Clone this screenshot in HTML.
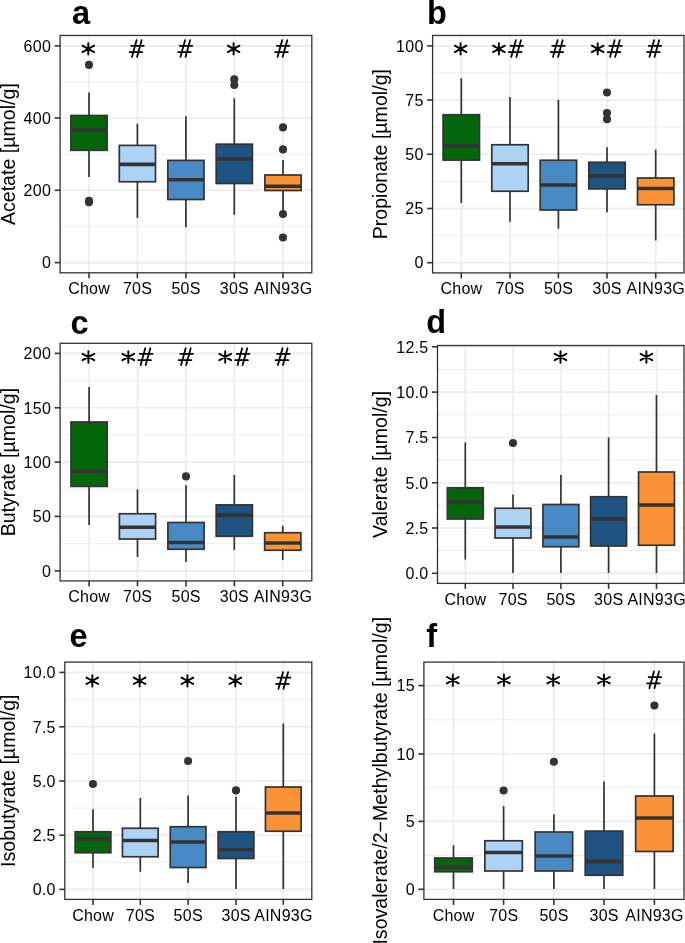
<!DOCTYPE html>
<html><head><meta charset="utf-8"><title>SCFA boxplots</title>
<style>
html,body{margin:0;padding:0;background:#fff;}
body{width:685px;height:943px;overflow:hidden;}
svg{display:block;will-change:transform;}
text{font-family:"Liberation Sans",sans-serif;fill:#000;}
.yl{font-size:16.0px;text-anchor:end;letter-spacing:0.25px;}
.xl{font-size:16.0px;text-anchor:middle;letter-spacing:0.25px;}
.yt{font-size:19.6px;text-anchor:middle;}
.tg{font-size:32.5px;font-weight:bold;}
.wh{stroke:#333333;stroke-width:1.7;}
.bx{stroke:#333333;stroke-width:1.7;}
.md{stroke:#333333;stroke-width:3.6;}
.dot{fill:#333333;}
.bd{fill:none;stroke:#333333;stroke-width:1.3;}
.tk{stroke:#333333;stroke-width:1.6;}
.ast{fill:none;stroke:#000;stroke-width:1.9;stroke-linecap:round;}
.hsh{fill:none;stroke:#000;stroke-width:1.75;stroke-linecap:round;}
</style></head>
<body>
<svg width="685" height="943" viewBox="0 0 685 943">
<rect width="685" height="943" fill="#fff"/>
<line x1="60.1" y1="226.4" x2="311.8" y2="226.4" stroke="#ebebeb" stroke-width="0.9"/>
<line x1="60.1" y1="154.2" x2="311.8" y2="154.2" stroke="#ebebeb" stroke-width="0.9"/>
<line x1="60.1" y1="81.8" x2="311.8" y2="81.8" stroke="#ebebeb" stroke-width="0.9"/>
<line x1="60.1" y1="262.6" x2="311.8" y2="262.6" stroke="#ebebeb" stroke-width="1.6"/>
<line x1="60.1" y1="190.3" x2="311.8" y2="190.3" stroke="#ebebeb" stroke-width="1.6"/>
<line x1="60.1" y1="118" x2="311.8" y2="118" stroke="#ebebeb" stroke-width="1.6"/>
<line x1="60.1" y1="45.9" x2="311.8" y2="45.9" stroke="#ebebeb" stroke-width="1.6"/>
<line x1="89" y1="35.45" x2="89" y2="272.8" stroke="#ebebeb" stroke-width="1.6"/>
<line x1="137.4" y1="35.45" x2="137.4" y2="272.8" stroke="#ebebeb" stroke-width="1.6"/>
<line x1="185.9" y1="35.45" x2="185.9" y2="272.8" stroke="#ebebeb" stroke-width="1.6"/>
<line x1="234.3" y1="35.45" x2="234.3" y2="272.8" stroke="#ebebeb" stroke-width="1.6"/>
<line x1="283" y1="35.45" x2="283" y2="272.8" stroke="#ebebeb" stroke-width="1.6"/>
<line x1="89" y1="92.5" x2="89" y2="115.5" class="wh"/>
<line x1="89" y1="150.3" x2="89" y2="177" class="wh"/>
<rect x="70.9" y="115.5" width="36.2" height="34.8" fill="#03660a" class="bx"/>
<line x1="70.9" y1="130" x2="107.1" y2="130" class="md"/>
<circle cx="89" cy="64.9" r="4.05" class="dot"/>
<circle cx="89" cy="200.8" r="4.05" class="dot"/>
<circle cx="89" cy="202.2" r="4.05" class="dot"/>
<line x1="137.4" y1="123.75" x2="137.4" y2="145.4" class="wh"/>
<line x1="137.4" y1="181.75" x2="137.4" y2="218" class="wh"/>
<rect x="119.3" y="145.4" width="36.2" height="36.35" fill="#acd3f5" class="bx"/>
<line x1="119.3" y1="164.4" x2="155.5" y2="164.4" class="md"/>
<line x1="185.9" y1="116.25" x2="185.9" y2="160.4" class="wh"/>
<line x1="185.9" y1="199.5" x2="185.9" y2="227.25" class="wh"/>
<rect x="167.8" y="160.4" width="36.2" height="39.1" fill="#4a8ac4" class="bx"/>
<line x1="167.8" y1="179.75" x2="204" y2="179.75" class="md"/>
<line x1="234.3" y1="98.25" x2="234.3" y2="144.2" class="wh"/>
<line x1="234.3" y1="183.5" x2="234.3" y2="214.75" class="wh"/>
<rect x="216.2" y="144.2" width="36.2" height="39.3" fill="#1f5384" class="bx"/>
<line x1="216.2" y1="159" x2="252.4" y2="159" class="md"/>
<circle cx="234.3" cy="79.25" r="4.05" class="dot"/>
<circle cx="234.3" cy="85" r="4.05" class="dot"/>
<line x1="283" y1="160" x2="283" y2="175" class="wh"/>
<line x1="283" y1="190.5" x2="283" y2="210.5" class="wh"/>
<rect x="264.9" y="175" width="36.2" height="15.5" fill="#fb9236" class="bx"/>
<line x1="264.9" y1="186.2" x2="301.1" y2="186.2" class="md"/>
<circle cx="283" cy="127.4" r="4.05" class="dot"/>
<circle cx="283" cy="149.4" r="4.05" class="dot"/>
<circle cx="283" cy="214" r="4.05" class="dot"/>
<circle cx="283" cy="237.5" r="4.05" class="dot"/>
<path d="M88.3 43.2V54.6 M82.45 45.7L94.15 52.1 M82.45 52.1L94.15 45.7" class="ast"/>
<path d="M136.55 40.15L131.95 56.95 M141.65 40.15L137.05 56.95 M131.2 45.8H143.8 M129.6 52.05H142.3" class="hsh"/>
<path d="M185.05 40.15L180.45 56.95 M190.15 40.15L185.55 56.95 M179.7 45.8H192.3 M178.1 52.05H190.8" class="hsh"/>
<path d="M233.6 43.2V54.6 M227.75 45.7L239.45 52.1 M227.75 52.1L239.45 45.7" class="ast"/>
<path d="M282.15 40.15L277.55 56.95 M287.25 40.15L282.65 56.95 M276.8 45.8H289.4 M275.2 52.05H287.9" class="hsh"/>
<rect x="60.1" y="35.45" width="251.7" height="237.35" class="bd"/>
<line x1="54.6" y1="262.6" x2="60.1" y2="262.6" class="tk"/>
<text x="51.05" y="268.35" class="yl">0</text>
<line x1="54.6" y1="190.3" x2="60.1" y2="190.3" class="tk"/>
<text x="51.05" y="196.05" class="yl">200</text>
<line x1="54.6" y1="118" x2="60.1" y2="118" class="tk"/>
<text x="51.05" y="123.75" class="yl">400</text>
<line x1="54.6" y1="45.9" x2="60.1" y2="45.9" class="tk"/>
<text x="51.05" y="51.65" class="yl">600</text>
<line x1="89" y1="272.8" x2="89" y2="278.3" class="tk"/>
<text x="89.12" y="293.9" class="xl">Chow</text>
<line x1="137.4" y1="272.8" x2="137.4" y2="278.3" class="tk"/>
<text x="137.52" y="293.9" class="xl">70S</text>
<line x1="185.9" y1="272.8" x2="185.9" y2="278.3" class="tk"/>
<text x="186.02" y="293.9" class="xl">50S</text>
<line x1="234.3" y1="272.8" x2="234.3" y2="278.3" class="tk"/>
<text x="234.42" y="293.9" class="xl">30S</text>
<line x1="283" y1="272.8" x2="283" y2="278.3" class="tk"/>
<text x="283.12" y="293.9" class="xl">AIN93G</text>
<text transform="translate(14.5 154.12) rotate(-90)" class="yt">Acetate [µmol/g]</text>
<text x="72" y="23.9" class="tg">a</text>
<line x1="432.6" y1="235.6" x2="684" y2="235.6" stroke="#ebebeb" stroke-width="0.9"/>
<line x1="432.6" y1="181.4" x2="684" y2="181.4" stroke="#ebebeb" stroke-width="0.9"/>
<line x1="432.6" y1="127.1" x2="684" y2="127.1" stroke="#ebebeb" stroke-width="0.9"/>
<line x1="432.6" y1="72.8" x2="684" y2="72.8" stroke="#ebebeb" stroke-width="0.9"/>
<line x1="432.6" y1="262.7" x2="684" y2="262.7" stroke="#ebebeb" stroke-width="1.6"/>
<line x1="432.6" y1="208.5" x2="684" y2="208.5" stroke="#ebebeb" stroke-width="1.6"/>
<line x1="432.6" y1="154.25" x2="684" y2="154.25" stroke="#ebebeb" stroke-width="1.6"/>
<line x1="432.6" y1="100" x2="684" y2="100" stroke="#ebebeb" stroke-width="1.6"/>
<line x1="432.6" y1="45.9" x2="684" y2="45.9" stroke="#ebebeb" stroke-width="1.6"/>
<line x1="461.3" y1="35.45" x2="461.3" y2="272.9" stroke="#ebebeb" stroke-width="1.6"/>
<line x1="510" y1="35.45" x2="510" y2="272.9" stroke="#ebebeb" stroke-width="1.6"/>
<line x1="558.4" y1="35.45" x2="558.4" y2="272.9" stroke="#ebebeb" stroke-width="1.6"/>
<line x1="607" y1="35.45" x2="607" y2="272.9" stroke="#ebebeb" stroke-width="1.6"/>
<line x1="655.7" y1="35.45" x2="655.7" y2="272.9" stroke="#ebebeb" stroke-width="1.6"/>
<line x1="461.3" y1="78.25" x2="461.3" y2="114.75" class="wh"/>
<line x1="461.3" y1="160.1" x2="461.3" y2="203" class="wh"/>
<rect x="443.1" y="114.75" width="36.4" height="45.35" fill="#03660a" class="bx"/>
<line x1="443.1" y1="145.9" x2="479.5" y2="145.9" class="md"/>
<line x1="510" y1="97" x2="510" y2="144.75" class="wh"/>
<line x1="510" y1="191.25" x2="510" y2="221.75" class="wh"/>
<rect x="491.8" y="144.75" width="36.4" height="46.5" fill="#acd3f5" class="bx"/>
<line x1="491.8" y1="163.75" x2="528.2" y2="163.75" class="md"/>
<line x1="558.4" y1="100" x2="558.4" y2="160.25" class="wh"/>
<line x1="558.4" y1="210" x2="558.4" y2="228.75" class="wh"/>
<rect x="540.2" y="160.25" width="36.4" height="49.75" fill="#4a8ac4" class="bx"/>
<line x1="540.2" y1="185" x2="576.6" y2="185" class="md"/>
<line x1="607" y1="147.25" x2="607" y2="162.25" class="wh"/>
<line x1="607" y1="188.9" x2="607" y2="212.25" class="wh"/>
<rect x="588.8" y="162.25" width="36.4" height="26.65" fill="#1f5384" class="bx"/>
<line x1="588.8" y1="175.9" x2="625.2" y2="175.9" class="md"/>
<circle cx="607" cy="92.5" r="4.05" class="dot"/>
<circle cx="607" cy="113" r="4.05" class="dot"/>
<circle cx="607" cy="119.25" r="4.05" class="dot"/>
<line x1="655.7" y1="149.6" x2="655.7" y2="178" class="wh"/>
<line x1="655.7" y1="204.75" x2="655.7" y2="240.5" class="wh"/>
<rect x="637.5" y="178" width="36.4" height="26.75" fill="#fb9236" class="bx"/>
<line x1="637.5" y1="188.5" x2="673.9" y2="188.5" class="md"/>
<path d="M460.6 43.2V54.6 M454.75 45.7L466.45 52.1 M454.75 52.1L466.45 45.7" class="ast"/>
<path d="M498.9 43.2V54.6 M493.05 45.7L504.75 52.1 M493.05 52.1L504.75 45.7" class="ast"/><path d="M515.85 40.15L511.25 56.95 M520.95 40.15L516.35 56.95 M510.5 45.8H523.1 M508.9 52.05H521.6" class="hsh"/>
<path d="M557.55 40.15L552.95 56.95 M562.65 40.15L558.05 56.95 M552.2 45.8H564.8 M550.6 52.05H563.3" class="hsh"/>
<path d="M597.7 43.2V54.6 M591.85 45.7L603.55 52.1 M591.85 52.1L603.55 45.7" class="ast"/><path d="M614.65 40.15L610.05 56.95 M619.75 40.15L615.15 56.95 M609.3 45.8H621.9 M607.7 52.05H620.4" class="hsh"/>
<path d="M654.05 40.15L649.45 56.95 M659.15 40.15L654.55 56.95 M648.7 45.8H661.3 M647.1 52.05H659.8" class="hsh"/>
<rect x="432.6" y="35.45" width="251.4" height="237.45" class="bd"/>
<line x1="427.1" y1="262.7" x2="432.6" y2="262.7" class="tk"/>
<text x="423.55" y="268.45" class="yl">0</text>
<line x1="427.1" y1="208.5" x2="432.6" y2="208.5" class="tk"/>
<text x="423.55" y="214.25" class="yl">25</text>
<line x1="427.1" y1="154.25" x2="432.6" y2="154.25" class="tk"/>
<text x="423.55" y="160" class="yl">50</text>
<line x1="427.1" y1="100" x2="432.6" y2="100" class="tk"/>
<text x="423.55" y="105.75" class="yl">75</text>
<line x1="427.1" y1="45.9" x2="432.6" y2="45.9" class="tk"/>
<text x="423.55" y="51.65" class="yl">100</text>
<line x1="461.3" y1="272.9" x2="461.3" y2="278.4" class="tk"/>
<text x="461.42" y="294" class="xl">Chow</text>
<line x1="510" y1="272.9" x2="510" y2="278.4" class="tk"/>
<text x="510.12" y="294" class="xl">70S</text>
<line x1="558.4" y1="272.9" x2="558.4" y2="278.4" class="tk"/>
<text x="558.52" y="294" class="xl">50S</text>
<line x1="607" y1="272.9" x2="607" y2="278.4" class="tk"/>
<text x="607.12" y="294" class="xl">30S</text>
<line x1="655.7" y1="272.9" x2="655.7" y2="278.4" class="tk"/>
<text x="655.82" y="294" class="xl">AIN93G</text>
<text transform="translate(387 154.17) rotate(-90)" class="yt">Propionate [µmol/g]</text>
<text x="426.9" y="23.9" class="tg">b</text>
<line x1="60.1" y1="543.7" x2="311.8" y2="543.7" stroke="#ebebeb" stroke-width="0.9"/>
<line x1="60.1" y1="489.3" x2="311.8" y2="489.3" stroke="#ebebeb" stroke-width="0.9"/>
<line x1="60.1" y1="435" x2="311.8" y2="435" stroke="#ebebeb" stroke-width="0.9"/>
<line x1="60.1" y1="380.6" x2="311.8" y2="380.6" stroke="#ebebeb" stroke-width="0.9"/>
<line x1="60.1" y1="570.9" x2="311.8" y2="570.9" stroke="#ebebeb" stroke-width="1.6"/>
<line x1="60.1" y1="516.4" x2="311.8" y2="516.4" stroke="#ebebeb" stroke-width="1.6"/>
<line x1="60.1" y1="462.1" x2="311.8" y2="462.1" stroke="#ebebeb" stroke-width="1.6"/>
<line x1="60.1" y1="407.8" x2="311.8" y2="407.8" stroke="#ebebeb" stroke-width="1.6"/>
<line x1="60.1" y1="353.4" x2="311.8" y2="353.4" stroke="#ebebeb" stroke-width="1.6"/>
<line x1="89.1" y1="343.3" x2="89.1" y2="580.9" stroke="#ebebeb" stroke-width="1.6"/>
<line x1="137.5" y1="343.3" x2="137.5" y2="580.9" stroke="#ebebeb" stroke-width="1.6"/>
<line x1="186" y1="343.3" x2="186" y2="580.9" stroke="#ebebeb" stroke-width="1.6"/>
<line x1="234.3" y1="343.3" x2="234.3" y2="580.9" stroke="#ebebeb" stroke-width="1.6"/>
<line x1="282.75" y1="343.3" x2="282.75" y2="580.9" stroke="#ebebeb" stroke-width="1.6"/>
<line x1="89.1" y1="387" x2="89.1" y2="422" class="wh"/>
<line x1="89.1" y1="486.4" x2="89.1" y2="525" class="wh"/>
<rect x="71" y="422" width="36.2" height="64.4" fill="#03660a" class="bx"/>
<line x1="71" y1="471.5" x2="107.2" y2="471.5" class="md"/>
<line x1="137.5" y1="489.5" x2="137.5" y2="513.75" class="wh"/>
<line x1="137.5" y1="539" x2="137.5" y2="557" class="wh"/>
<rect x="119.4" y="513.75" width="36.2" height="25.25" fill="#acd3f5" class="bx"/>
<line x1="119.4" y1="527.25" x2="155.6" y2="527.25" class="md"/>
<line x1="186" y1="485.25" x2="186" y2="522.5" class="wh"/>
<line x1="186" y1="549.25" x2="186" y2="562" class="wh"/>
<rect x="167.9" y="522.5" width="36.2" height="26.75" fill="#4a8ac4" class="bx"/>
<line x1="167.9" y1="542.5" x2="204.1" y2="542.5" class="md"/>
<circle cx="186" cy="476.4" r="4.05" class="dot"/>
<line x1="234.3" y1="475" x2="234.3" y2="504.9" class="wh"/>
<line x1="234.3" y1="536.25" x2="234.3" y2="550" class="wh"/>
<rect x="216.2" y="504.9" width="36.2" height="31.35" fill="#1f5384" class="bx"/>
<line x1="216.2" y1="515.1" x2="252.4" y2="515.1" class="md"/>
<line x1="282.75" y1="525.75" x2="282.75" y2="532.75" class="wh"/>
<line x1="282.75" y1="550.25" x2="282.75" y2="560" class="wh"/>
<rect x="264.65" y="532.75" width="36.2" height="17.5" fill="#fb9236" class="bx"/>
<line x1="264.65" y1="543" x2="300.85" y2="543" class="md"/>
<path d="M88.4 351.3V362.7 M82.55 353.8L94.25 360.2 M82.55 360.2L94.25 353.8" class="ast"/>
<path d="M128.3 351.3V362.7 M122.45 353.8L134.15 360.2 M122.45 360.2L134.15 353.8" class="ast"/><path d="M145.25 348.25L140.65 365.05 M150.35 348.25L145.75 365.05 M139.9 353.9H152.5 M138.3 360.15H151" class="hsh"/>
<path d="M185.65 348.25L181.05 365.05 M190.75 348.25L186.15 365.05 M180.3 353.9H192.9 M178.7 360.15H191.4" class="hsh"/>
<path d="M225.2 351.3V362.7 M219.35 353.8L231.05 360.2 M219.35 360.2L231.05 353.8" class="ast"/><path d="M242.15 348.25L237.55 365.05 M247.25 348.25L242.65 365.05 M236.8 353.9H249.4 M235.2 360.15H247.9" class="hsh"/>
<path d="M282.5 348.25L277.9 365.05 M287.6 348.25L283 365.05 M277.15 353.9H289.75 M275.55 360.15H288.25" class="hsh"/>
<rect x="60.1" y="343.3" width="251.7" height="237.6" class="bd"/>
<line x1="54.6" y1="570.9" x2="60.1" y2="570.9" class="tk"/>
<text x="51.05" y="576.65" class="yl">0</text>
<line x1="54.6" y1="516.4" x2="60.1" y2="516.4" class="tk"/>
<text x="51.05" y="522.15" class="yl">50</text>
<line x1="54.6" y1="462.1" x2="60.1" y2="462.1" class="tk"/>
<text x="51.05" y="467.85" class="yl">100</text>
<line x1="54.6" y1="407.8" x2="60.1" y2="407.8" class="tk"/>
<text x="51.05" y="413.55" class="yl">150</text>
<line x1="54.6" y1="353.4" x2="60.1" y2="353.4" class="tk"/>
<text x="51.05" y="359.15" class="yl">200</text>
<line x1="89.1" y1="580.9" x2="89.1" y2="586.4" class="tk"/>
<text x="89.22" y="602" class="xl">Chow</text>
<line x1="137.5" y1="580.9" x2="137.5" y2="586.4" class="tk"/>
<text x="137.62" y="602" class="xl">70S</text>
<line x1="186" y1="580.9" x2="186" y2="586.4" class="tk"/>
<text x="186.12" y="602" class="xl">50S</text>
<line x1="234.3" y1="580.9" x2="234.3" y2="586.4" class="tk"/>
<text x="234.42" y="602" class="xl">30S</text>
<line x1="282.75" y1="580.9" x2="282.75" y2="586.4" class="tk"/>
<text x="282.87" y="602" class="xl">AIN93G</text>
<text transform="translate(14.7 462.1) rotate(-90)" class="yt">Butyrate [µmol/g]</text>
<text x="70.5" y="333.8" class="tg">c</text>
<line x1="437.5" y1="550.6" x2="684" y2="550.6" stroke="#ebebeb" stroke-width="0.9"/>
<line x1="437.5" y1="505.4" x2="684" y2="505.4" stroke="#ebebeb" stroke-width="0.9"/>
<line x1="437.5" y1="460.1" x2="684" y2="460.1" stroke="#ebebeb" stroke-width="0.9"/>
<line x1="437.5" y1="414.8" x2="684" y2="414.8" stroke="#ebebeb" stroke-width="0.9"/>
<line x1="437.5" y1="369.5" x2="684" y2="369.5" stroke="#ebebeb" stroke-width="0.9"/>
<line x1="437.5" y1="573.3" x2="684" y2="573.3" stroke="#ebebeb" stroke-width="1.6"/>
<line x1="437.5" y1="528" x2="684" y2="528" stroke="#ebebeb" stroke-width="1.6"/>
<line x1="437.5" y1="482.75" x2="684" y2="482.75" stroke="#ebebeb" stroke-width="1.6"/>
<line x1="437.5" y1="437.5" x2="684" y2="437.5" stroke="#ebebeb" stroke-width="1.6"/>
<line x1="437.5" y1="392.1" x2="684" y2="392.1" stroke="#ebebeb" stroke-width="1.6"/>
<line x1="437.5" y1="346.8" x2="684" y2="346.8" stroke="#ebebeb" stroke-width="1.6"/>
<line x1="465.3" y1="345.5" x2="465.3" y2="583.4" stroke="#ebebeb" stroke-width="1.6"/>
<line x1="513" y1="345.5" x2="513" y2="583.4" stroke="#ebebeb" stroke-width="1.6"/>
<line x1="560.9" y1="345.5" x2="560.9" y2="583.4" stroke="#ebebeb" stroke-width="1.6"/>
<line x1="608.6" y1="345.5" x2="608.6" y2="583.4" stroke="#ebebeb" stroke-width="1.6"/>
<line x1="656.5" y1="345.5" x2="656.5" y2="583.4" stroke="#ebebeb" stroke-width="1.6"/>
<line x1="465.3" y1="442.5" x2="465.3" y2="487.75" class="wh"/>
<line x1="465.3" y1="519" x2="465.3" y2="559.5" class="wh"/>
<rect x="447.35" y="487.75" width="35.9" height="31.25" fill="#03660a" class="bx"/>
<line x1="447.35" y1="502" x2="483.25" y2="502" class="md"/>
<line x1="513" y1="494.5" x2="513" y2="508.25" class="wh"/>
<line x1="513" y1="538" x2="513" y2="573" class="wh"/>
<rect x="495.05" y="508.25" width="35.9" height="29.75" fill="#acd3f5" class="bx"/>
<line x1="495.05" y1="527" x2="530.95" y2="527" class="md"/>
<circle cx="513" cy="443" r="4.05" class="dot"/>
<line x1="560.9" y1="475" x2="560.9" y2="504.5" class="wh"/>
<line x1="560.9" y1="546.75" x2="560.9" y2="573" class="wh"/>
<rect x="542.95" y="504.5" width="35.9" height="42.25" fill="#4a8ac4" class="bx"/>
<line x1="542.95" y1="537" x2="578.85" y2="537" class="md"/>
<line x1="608.6" y1="437.5" x2="608.6" y2="496.75" class="wh"/>
<line x1="608.6" y1="546" x2="608.6" y2="573" class="wh"/>
<rect x="590.65" y="496.75" width="35.9" height="49.25" fill="#1f5384" class="bx"/>
<line x1="590.65" y1="518.9" x2="626.55" y2="518.9" class="md"/>
<line x1="656.5" y1="395" x2="656.5" y2="472" class="wh"/>
<line x1="656.5" y1="545.25" x2="656.5" y2="573" class="wh"/>
<rect x="638.55" y="472" width="35.9" height="73.25" fill="#fb9236" class="bx"/>
<line x1="638.55" y1="505" x2="674.45" y2="505" class="md"/>
<path d="M560.5 351.3V362.7 M554.65 353.8L566.35 360.2 M554.65 360.2L566.35 353.8" class="ast"/>
<path d="M646.4 351.3V362.7 M640.55 353.8L652.25 360.2 M640.55 360.2L652.25 353.8" class="ast"/>
<rect x="437.5" y="345.5" width="246.5" height="237.9" class="bd"/>
<line x1="432" y1="573.3" x2="437.5" y2="573.3" class="tk"/>
<text x="428.45" y="579.05" class="yl">0.0</text>
<line x1="432" y1="528" x2="437.5" y2="528" class="tk"/>
<text x="428.45" y="533.75" class="yl">2.5</text>
<line x1="432" y1="482.75" x2="437.5" y2="482.75" class="tk"/>
<text x="428.45" y="488.5" class="yl">5.0</text>
<line x1="432" y1="437.5" x2="437.5" y2="437.5" class="tk"/>
<text x="428.45" y="443.25" class="yl">7.5</text>
<line x1="432" y1="392.1" x2="437.5" y2="392.1" class="tk"/>
<text x="428.45" y="397.85" class="yl">10.0</text>
<line x1="432" y1="346.8" x2="437.5" y2="346.8" class="tk"/>
<text x="428.45" y="352.55" class="yl">12.5</text>
<line x1="465.3" y1="583.4" x2="465.3" y2="588.9" class="tk"/>
<text x="465.42" y="604.5" class="xl">Chow</text>
<line x1="513" y1="583.4" x2="513" y2="588.9" class="tk"/>
<text x="513.12" y="604.5" class="xl">70S</text>
<line x1="560.9" y1="583.4" x2="560.9" y2="588.9" class="tk"/>
<text x="561.02" y="604.5" class="xl">50S</text>
<line x1="608.6" y1="583.4" x2="608.6" y2="588.9" class="tk"/>
<text x="608.72" y="604.5" class="xl">30S</text>
<line x1="656.5" y1="583.4" x2="656.5" y2="588.9" class="tk"/>
<text x="656.62" y="604.5" class="xl">AIN93G</text>
<text transform="translate(387 464.45) rotate(-90)" class="yt">Valerate [µmol/g]</text>
<text x="426.2" y="332.6" class="tg">d</text>
<line x1="64.8" y1="862.3" x2="311.8" y2="862.3" stroke="#ebebeb" stroke-width="0.9"/>
<line x1="64.8" y1="808.1" x2="311.8" y2="808.1" stroke="#ebebeb" stroke-width="0.9"/>
<line x1="64.8" y1="753.9" x2="311.8" y2="753.9" stroke="#ebebeb" stroke-width="0.9"/>
<line x1="64.8" y1="699.7" x2="311.8" y2="699.7" stroke="#ebebeb" stroke-width="0.9"/>
<line x1="64.8" y1="889.4" x2="311.8" y2="889.4" stroke="#ebebeb" stroke-width="1.6"/>
<line x1="64.8" y1="835.2" x2="311.8" y2="835.2" stroke="#ebebeb" stroke-width="1.6"/>
<line x1="64.8" y1="781" x2="311.8" y2="781" stroke="#ebebeb" stroke-width="1.6"/>
<line x1="64.8" y1="726.8" x2="311.8" y2="726.8" stroke="#ebebeb" stroke-width="1.6"/>
<line x1="64.8" y1="672.4" x2="311.8" y2="672.4" stroke="#ebebeb" stroke-width="1.6"/>
<line x1="93" y1="662.1" x2="93" y2="899.4" stroke="#ebebeb" stroke-width="1.6"/>
<line x1="140.3" y1="662.1" x2="140.3" y2="899.4" stroke="#ebebeb" stroke-width="1.6"/>
<line x1="188.1" y1="662.1" x2="188.1" y2="899.4" stroke="#ebebeb" stroke-width="1.6"/>
<line x1="236" y1="662.1" x2="236" y2="899.4" stroke="#ebebeb" stroke-width="1.6"/>
<line x1="283.3" y1="662.1" x2="283.3" y2="899.4" stroke="#ebebeb" stroke-width="1.6"/>
<line x1="93" y1="809.25" x2="93" y2="831.75" class="wh"/>
<line x1="93" y1="852.75" x2="93" y2="868" class="wh"/>
<rect x="75.15" y="831.75" width="35.7" height="21" fill="#03660a" class="bx"/>
<line x1="75.15" y1="839" x2="110.85" y2="839" class="md"/>
<circle cx="93" cy="784" r="4.05" class="dot"/>
<line x1="140.3" y1="798" x2="140.3" y2="828.25" class="wh"/>
<line x1="140.3" y1="856.75" x2="140.3" y2="871.75" class="wh"/>
<rect x="122.45" y="828.25" width="35.7" height="28.5" fill="#acd3f5" class="bx"/>
<line x1="122.45" y1="840.5" x2="158.15" y2="840.5" class="md"/>
<line x1="188.1" y1="795.5" x2="188.1" y2="826.75" class="wh"/>
<line x1="188.1" y1="867.5" x2="188.1" y2="883" class="wh"/>
<rect x="170.25" y="826.75" width="35.7" height="40.75" fill="#4a8ac4" class="bx"/>
<line x1="170.25" y1="842" x2="205.95" y2="842" class="md"/>
<circle cx="188.1" cy="761" r="4.05" class="dot"/>
<line x1="236" y1="796.75" x2="236" y2="831.75" class="wh"/>
<line x1="236" y1="858.5" x2="236" y2="889" class="wh"/>
<rect x="218.15" y="831.75" width="35.7" height="26.75" fill="#1f5384" class="bx"/>
<line x1="218.15" y1="849.75" x2="253.85" y2="849.75" class="md"/>
<circle cx="236" cy="790.4" r="4.05" class="dot"/>
<line x1="283.3" y1="723.5" x2="283.3" y2="787" class="wh"/>
<line x1="283.3" y1="831.25" x2="283.3" y2="889" class="wh"/>
<rect x="265.45" y="787" width="35.7" height="44.25" fill="#fb9236" class="bx"/>
<line x1="265.45" y1="813" x2="301.15" y2="813" class="md"/>
<path d="M92.3 675.1V686.5 M86.45 677.6L98.15 684 M86.45 684L98.15 677.6" class="ast"/>
<path d="M139.6 675.1V686.5 M133.75 677.6L145.45 684 M133.75 684L145.45 677.6" class="ast"/>
<path d="M187.4 675.1V686.5 M181.55 677.6L193.25 684 M181.55 684L193.25 677.6" class="ast"/>
<path d="M235.3 675.1V686.5 M229.45 677.6L241.15 684 M229.45 684L241.15 677.6" class="ast"/>
<path d="M283.05 672.05L278.45 688.85 M288.15 672.05L283.55 688.85 M277.7 677.7H290.3 M276.1 683.95H288.8" class="hsh"/>
<rect x="64.8" y="662.1" width="247" height="237.3" class="bd"/>
<line x1="59.3" y1="889.4" x2="64.8" y2="889.4" class="tk"/>
<text x="55.75" y="895.15" class="yl">0.0</text>
<line x1="59.3" y1="835.2" x2="64.8" y2="835.2" class="tk"/>
<text x="55.75" y="840.95" class="yl">2.5</text>
<line x1="59.3" y1="781" x2="64.8" y2="781" class="tk"/>
<text x="55.75" y="786.75" class="yl">5.0</text>
<line x1="59.3" y1="726.8" x2="64.8" y2="726.8" class="tk"/>
<text x="55.75" y="732.55" class="yl">7.5</text>
<line x1="59.3" y1="672.4" x2="64.8" y2="672.4" class="tk"/>
<text x="55.75" y="678.15" class="yl">10.0</text>
<line x1="93" y1="899.4" x2="93" y2="904.9" class="tk"/>
<text x="93.12" y="920.5" class="xl">Chow</text>
<line x1="140.3" y1="899.4" x2="140.3" y2="904.9" class="tk"/>
<text x="140.42" y="920.5" class="xl">70S</text>
<line x1="188.1" y1="899.4" x2="188.1" y2="904.9" class="tk"/>
<text x="188.22" y="920.5" class="xl">50S</text>
<line x1="236" y1="899.4" x2="236" y2="904.9" class="tk"/>
<text x="236.12" y="920.5" class="xl">30S</text>
<line x1="283.3" y1="899.4" x2="283.3" y2="904.9" class="tk"/>
<text x="283.42" y="920.5" class="xl">AIN93G</text>
<text transform="translate(14.6 780.75) rotate(-90)" class="yt">Isobutyrate [µmol/g]</text>
<text x="69.4" y="647.1" class="tg">e</text>
<line x1="423.9" y1="855.4" x2="684" y2="855.4" stroke="#ebebeb" stroke-width="0.9"/>
<line x1="423.9" y1="787.7" x2="684" y2="787.7" stroke="#ebebeb" stroke-width="0.9"/>
<line x1="423.9" y1="719.8" x2="684" y2="719.8" stroke="#ebebeb" stroke-width="0.9"/>
<line x1="423.9" y1="889.3" x2="684" y2="889.3" stroke="#ebebeb" stroke-width="1.6"/>
<line x1="423.9" y1="821.4" x2="684" y2="821.4" stroke="#ebebeb" stroke-width="1.6"/>
<line x1="423.9" y1="754" x2="684" y2="754" stroke="#ebebeb" stroke-width="1.6"/>
<line x1="423.9" y1="685.6" x2="684" y2="685.6" stroke="#ebebeb" stroke-width="1.6"/>
<line x1="453.5" y1="662.1" x2="453.5" y2="899.4" stroke="#ebebeb" stroke-width="1.6"/>
<line x1="503.6" y1="662.1" x2="503.6" y2="899.4" stroke="#ebebeb" stroke-width="1.6"/>
<line x1="553.9" y1="662.1" x2="553.9" y2="899.4" stroke="#ebebeb" stroke-width="1.6"/>
<line x1="604" y1="662.1" x2="604" y2="899.4" stroke="#ebebeb" stroke-width="1.6"/>
<line x1="654.4" y1="662.1" x2="654.4" y2="899.4" stroke="#ebebeb" stroke-width="1.6"/>
<line x1="453.5" y1="845.25" x2="453.5" y2="858" class="wh"/>
<line x1="453.5" y1="871.75" x2="453.5" y2="889" class="wh"/>
<rect x="434.75" y="858" width="37.5" height="13.75" fill="#03660a" class="bx"/>
<line x1="434.75" y1="867.25" x2="472.25" y2="867.25" class="md"/>
<line x1="503.6" y1="806" x2="503.6" y2="840.75" class="wh"/>
<line x1="503.6" y1="871" x2="503.6" y2="889" class="wh"/>
<rect x="484.85" y="840.75" width="37.5" height="30.25" fill="#acd3f5" class="bx"/>
<line x1="484.85" y1="852.5" x2="522.35" y2="852.5" class="md"/>
<circle cx="503.6" cy="790.5" r="4.05" class="dot"/>
<line x1="553.9" y1="814.25" x2="553.9" y2="832" class="wh"/>
<line x1="553.9" y1="871" x2="553.9" y2="889" class="wh"/>
<rect x="535.15" y="832" width="37.5" height="39" fill="#4a8ac4" class="bx"/>
<line x1="535.15" y1="856" x2="572.65" y2="856" class="md"/>
<circle cx="553.9" cy="761.75" r="4.05" class="dot"/>
<line x1="604" y1="781.6" x2="604" y2="831.1" class="wh"/>
<line x1="604" y1="875.25" x2="604" y2="889" class="wh"/>
<rect x="585.25" y="831.1" width="37.5" height="44.15" fill="#1f5384" class="bx"/>
<line x1="585.25" y1="861.4" x2="622.75" y2="861.4" class="md"/>
<line x1="654.4" y1="733.5" x2="654.4" y2="796" class="wh"/>
<line x1="654.4" y1="851.5" x2="654.4" y2="889" class="wh"/>
<rect x="635.65" y="796" width="37.5" height="55.5" fill="#fb9236" class="bx"/>
<line x1="635.65" y1="818" x2="673.15" y2="818" class="md"/>
<circle cx="654.4" cy="705.5" r="4.05" class="dot"/>
<path d="M452.8 674.5V685.9 M446.95 677L458.65 683.4 M446.95 683.4L458.65 677" class="ast"/>
<path d="M503.9 674.5V685.9 M498.05 677L509.75 683.4 M498.05 683.4L509.75 677" class="ast"/>
<path d="M553.2 674.5V685.9 M547.35 677L559.05 683.4 M547.35 683.4L559.05 677" class="ast"/>
<path d="M603.9 674.5V685.9 M598.05 677L609.75 683.4 M598.05 683.4L609.75 677" class="ast"/>
<path d="M653.95 671.45L649.35 688.25 M659.05 671.45L654.45 688.25 M648.6 677.1H661.2 M647 683.35H659.7" class="hsh"/>
<rect x="423.9" y="662.1" width="260.1" height="237.3" class="bd"/>
<line x1="418.4" y1="889.3" x2="423.9" y2="889.3" class="tk"/>
<text x="414.85" y="895.05" class="yl">0</text>
<line x1="418.4" y1="821.4" x2="423.9" y2="821.4" class="tk"/>
<text x="414.85" y="827.15" class="yl">5</text>
<line x1="418.4" y1="754" x2="423.9" y2="754" class="tk"/>
<text x="414.85" y="759.75" class="yl">10</text>
<line x1="418.4" y1="685.6" x2="423.9" y2="685.6" class="tk"/>
<text x="414.85" y="691.35" class="yl">15</text>
<line x1="453.5" y1="899.4" x2="453.5" y2="904.9" class="tk"/>
<text x="453.62" y="920.5" class="xl">Chow</text>
<line x1="503.6" y1="899.4" x2="503.6" y2="904.9" class="tk"/>
<text x="503.72" y="920.5" class="xl">70S</text>
<line x1="553.9" y1="899.4" x2="553.9" y2="904.9" class="tk"/>
<text x="554.02" y="920.5" class="xl">50S</text>
<line x1="604" y1="899.4" x2="604" y2="904.9" class="tk"/>
<text x="604.12" y="920.5" class="xl">30S</text>
<line x1="654.4" y1="899.4" x2="654.4" y2="904.9" class="tk"/>
<text x="654.52" y="920.5" class="xl">AIN93G</text>
<text transform="translate(386.7 780.75) rotate(-90)" class="yt">Isovalerate/2−Methylbutyrate [µmol/g]</text>
<text x="426.3" y="646.8" class="tg">f</text>
</svg>
</body></html>
